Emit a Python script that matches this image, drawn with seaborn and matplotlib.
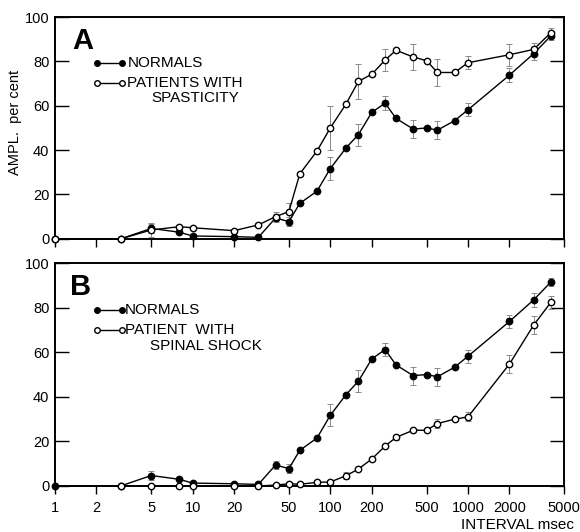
import numpy as np
import pandas as pd
import matplotlib
matplotlib.use("Agg")
import matplotlib.pyplot as plt
import seaborn as sns

# Conditioning-test intervals (msec)
intervals = [1, 3, 5, 8, 10, 20, 30, 40, 50, 60, 80, 100, 130, 160, 200,
             250, 300, 400, 500, 600, 800, 1000, 2000, 3000, 4000]

# Recovery amplitude (per cent of control)
normals = [0, 0, 4.7, 3.0, 1.3, 1.0, 0.7, 9.4, 7.8, 16.0, 21.5, 31.7, 41.0,
           47.0, 57.0, 61.2, 54.3, 49.5, 50.0, 49.0, 53.3, 58.2, 73.8, 83.5, 91.5]
normals_sd = [0, 0, 2, 0, 0, 0, 0, 2, 2, 0, 0, 5, 0, 5, 0, 3, 0, 4, 0, 4,
              0, 3, 3, 3, 2]

spasticity = [0, 0, 4.0, 5.5, 5.0, 3.7, 6.3, 10.0, 12.3, 29.3, 39.6, 50.0,
              60.8, 71.0, 74.2, 80.6, 85.0, 82.0, 80.3, 75.0, 75.0, 79.4,
              83.0, 85.4, 93.0]
spasticity_sd = [0, 0, 3, 0, 0, 0, 0, 2, 4, 0, 0, 10, 0, 8, 0, 5, 0, 6, 0, 6,
                 0, 3, 5, 3, 2]

shock_intervals = intervals[1:]
spinal_shock = [0, 0, 0, 0, 0, 0, 0.4, 1.0, 0.8, 1.6, 1.8, 4.6, 7.6, 12.1,
                17.9, 21.8, 25.0, 25.0, 28.0, 30.0, 31.0, 54.7, 72.2, 82.4]
spinal_shock_sd = [0, 0, 0, 0, 0, 0, 0, 1, 0, 0, 1, 1.5, 0, 0, 0, 1, 0, 0,
                   2, 0, 2, 4, 4, 3]

x_ticks = [1, 2, 5, 10, 20, 50, 100, 200, 500, 1000, 2000, 5000]
x_tick_labels = ["1", "2", "5", "10", "20", "50", "100", "200", "500",
                 "1000", "2000", "5000"]
y_ticks = [0, 20, 40, 60, 80, 100]

sns.set_style("ticks")
plt.rcParams["font.family"] = ["Liberation Sans", "DejaVu Sans"]
plt.rcParams.update({
    "axes.linewidth": 1.4,
    "axes.edgecolor": "black",
    "text.color": "black",
    "axes.labelcolor": "black",
    "xtick.color": "black",
    "ytick.color": "black",
})

fig = plt.figure(figsize=(5.8, 5.32), dpi=100)
ax_a = fig.add_axes([0.0948, 0.551, 0.878, 0.417])
ax_b = fig.add_axes([0.0948, 0.0865, 0.878, 0.419])


def draw_series(ax, x, y, sd, filled):
    df = pd.DataFrame({"interval": x, "ampl": y})
    sns.lineplot(data=df, x="interval", y="ampl", ax=ax, color="black",
                 linewidth=1.0, marker="o", markersize=4.6,
                 markerfacecolor="black" if filled else "white",
                 markeredgecolor="black", markeredgewidth=1.0,
                 estimator=None, sort=False, clip_on=False, zorder=4)
    sd = np.asarray(sd, dtype=float)
    m = sd > 0
    ax.errorbar(np.asarray(x)[m], np.asarray(y)[m], yerr=sd[m], fmt="none",
                ecolor="#8a8a8a", elinewidth=0.7, capsize=2, capthick=0.7,
                zorder=2)


def style_axes(ax, show_xlabels):
    ax.set_xscale("log")
    ax.set_xlim(1, 5000)
    ax.set_ylim(0, 100)
    ax.set_xticks(x_ticks)
    ax.xaxis.set_minor_locator(matplotlib.ticker.NullLocator())
    if show_xlabels:
        ax.set_xticklabels(x_tick_labels)
    else:
        ax.set_xticklabels([])
    ax.set_yticks(y_ticks)
    ax.set_yticklabels([str(v) for v in y_ticks])
    ax.tick_params(axis="x", direction="out", length=6, width=1.0,
                   labelsize=10.5, pad=5, colors="black")
    ax.tick_params(axis="y", direction="in", length=10, width=1.0,
                   labelsize=10.5, pad=4, right=True, colors="black")
    ax.set_xlabel("")
    ax.set_ylabel("")
    for s in ax.spines.values():
        s.set_visible(True)
        s.set_linewidth(1.4)
        s.set_color("black")


def legend_row(ax, y, filled, text, x0=0.082, x1=0.131, xt=0.142):
    ax.plot([x0, x1], [y, y], transform=ax.transAxes, color="black",
            linewidth=1.0, marker="o", markersize=4,
            markerfacecolor="black" if filled else "white",
            markeredgecolor="black", markeredgewidth=1.0, clip_on=False)
    ax.text(xt, y, text, transform=ax.transAxes, fontsize=11,
            va="center", ha="left")


# Panel A: normals vs. patients with spasticity
draw_series(ax_a, intervals, normals, normals_sd, filled=True)
draw_series(ax_a, intervals, spasticity, spasticity_sd, filled=False)
style_axes(ax_a, show_xlabels=False)
ax_a.text(0.033, 0.955, "A", transform=ax_a.transAxes, fontsize=21,
          fontweight="bold", va="top", ha="left")
legend_row(ax_a, 0.793, True, "NORMALS")
legend_row(ax_a, 0.703, False, "PATIENTS WITH")
ax_a.text(0.19, 0.635, "SPASTICITY", transform=ax_a.transAxes,
          fontsize=11, va="center", ha="left")

# Panel B: normals vs. patient with spinal shock
draw_series(ax_b, intervals, normals, normals_sd, filled=True)
draw_series(ax_b, shock_intervals, spinal_shock, spinal_shock_sd, filled=False)
style_axes(ax_b, show_xlabels=True)
ax_b.text(0.03, 0.955, "B", transform=ax_b.transAxes, fontsize=21,
          fontweight="bold", va="top", ha="left")
legend_row(ax_b, 0.789, True, "NORMALS", xt=0.137)
legend_row(ax_b, 0.700, False, "PATIENT  WITH", xt=0.137)
ax_b.text(0.186, 0.628, "SPINAL SHOCK", transform=ax_b.transAxes,
          fontsize=11, va="center", ha="left")

fig.text(0.026, 0.77, "AMPL.  per cent", rotation=90, fontsize=10.5,
         ha="center", va="center")
fig.text(0.99, 0.013, "INTERVAL msec", fontsize=11, ha="right", va="center")

fig.savefig("out.png", dpi=100)
